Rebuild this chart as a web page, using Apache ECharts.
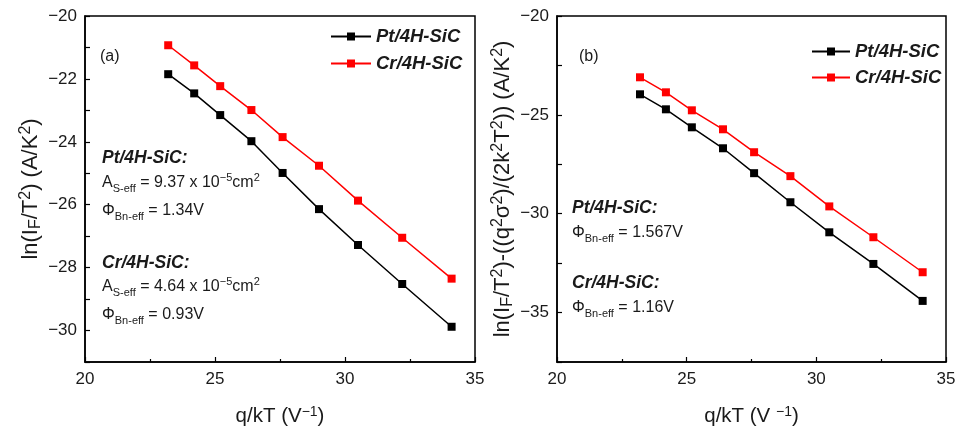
<!DOCTYPE html>
<html><head><meta charset="utf-8">
<script src="https://cdn.jsdelivr.net/npm/echarts@6/dist/echarts.min.js"></script>
<style>html,body{margin:0;padding:0;background:#fff}#c{width:960px;height:432px}</style>
</head><body><div id="c"></div>
<script>
// q/kT values (V^-1)
const qkT = [23.2, 24.2, 25.2, 26.4, 27.6, 29.0, 30.5, 32.2, 34.1];
// Panel (a): ln(IF/T^2)
const ptA = [-21.85, -22.46, -23.15, -23.98, -24.99, -26.14, -27.28, -28.52, -29.88];
const crA = [-20.93, -21.57, -22.23, -22.99, -23.85, -24.76, -25.87, -27.05, -28.35];
// Panel (b): ln(IF/T^2) - q^2σ^2/(2k^2T^2)
const ptB = [-23.96, -24.72, -25.63, -26.69, -27.95, -29.42, -30.94, -32.54, -34.41];
const crB = [-23.10, -23.86, -24.77, -25.73, -26.89, -28.10, -29.63, -31.19, -32.96];
const seriesNames = ['Pt/4H-SiC', 'Cr/4H-SiC'];
const xTicks = [20, 25, 30, 35];

const FONT = 'Liberation Sans, Arial, sans-serif';
const TXT = '#1a1a1a';
const minus = v => String(v).replace('-', '\u2212');
const rich = (fs, bfs, subRatio, lh) => {
  const r = subRatio || 0.7;
  const L = lh || 22;
  return {
    n: {fontSize: fs, lineHeight: L, fontFamily: FONT, color: TXT},
    sub: {fontSize: Math.round(fs*r), lineHeight: 6, verticalAlign: 'bottom', fontFamily: FONT, color: TXT},
    sup: {fontSize: Math.round(fs*r), lineHeight: 10, verticalAlign: 'top', fontFamily: FONT, color: TXT},
    b: {fontSize: bfs || fs, lineHeight: L, fontFamily: FONT, fontWeight: 'bold', fontStyle: 'italic', color: TXT}
  };
};

const chart = echarts.init(document.getElementById('c'), null, {renderer: 'canvas'});

function xAxisDef(gi, nameText) {
  return {
    gridIndex: gi, type: 'value', min: 20, max: 35, interval: 5,
    name: nameText, nameLocation: 'middle', nameGap: 43,
    nameTextStyle: {fontSize: 20.5, fontFamily: FONT, color: TXT, rich: rich(20.5)},
    axisLine: {show: true, onZero: false, lineStyle: {color: '#000', width: 1.5}},
    axisTick: {show: true, inside: true, length: 5, lineStyle: {color: '#000', width: 1.2}},
    minorTick: {show: true, splitNumber: 2, length: 3, lineStyle: {color: '#000', width: 1.2}},
    axisLabel: {fontSize: 17, fontFamily: FONT, color: TXT, margin: 9, formatter: v => minus(v)},
    splitLine: {show: false}, minorSplitLine: {show: false}
  };
}
function yAxisDef(gi, min, max, interval, labelEvery, nameText, gap) {
  return {
    gridIndex: gi, type: 'value', min: min, max: max, interval: interval,
    name: nameText, nameLocation: 'middle', nameGap: gap, nameRotate: 90,
    nameTextStyle: {fontSize: 22, fontFamily: FONT, color: TXT, rich: rich(22, 22, 0.72, 26)},
    axisLine: {show: true, onZero: false, lineStyle: {color: '#000', width: 1.5}},
    axisTick: {show: true, inside: true, length: 5, lineStyle: {color: '#000', width: 1.2}},
    axisLabel: {fontSize: 17, fontFamily: FONT, color: TXT, margin: 8,
      formatter: v => (Math.abs(v % labelEvery) < 1e-9 ? minus(v) : '')},
    splitLine: {show: false}
  };
}
function lineSeries(name, xi, data, color) {
  return {
    name: name, type: 'line', xAxisIndex: xi, yAxisIndex: xi,
    data: qkT.map((x, i) => [x, data[i]]),
    symbol: 'rect', symbolSize: 8, showSymbol: true,
    lineStyle: {color: color, width: 1.5}, itemStyle: {color: color},
    emphasis: {disabled: true}
  };
}
const legendStyle = {fontSize: 18.5, fontFamily: FONT, fontWeight: 'bold', fontStyle: 'italic', color: TXT};

function t(x, y, text, fs) {
  return {type: 'text', x: x, y: y, z: 100,
    style: {text: text, x: 0, y: 0, rich: rich(fs || 16, 17.5), fontSize: fs || 16, fontFamily: FONT, fill: TXT, verticalAlign: 'middle', align: 'left'}};
}

chart.setOption({
  animation: false,
  backgroundColor: '#fff',
  grid: [
    {left: 85, top: 16, width: 390, height: 346, show: true, borderColor: '#000', borderWidth: 1.5, backgroundColor: 'transparent'},
    {left: 557, top: 16, width: 389, height: 346, show: true, borderColor: '#000', borderWidth: 1.5, backgroundColor: 'transparent'}
  ],
  xAxis: [
    xAxisDef(0, '{n|q/kT (V}{sup|\u22121}{n|)}'),
    xAxisDef(1, '{n|q/kT (V }{sup|\u22121}{n|)}')
  ],
  yAxis: [
    yAxisDef(0, -31, -20, 1, 2, '{n|ln(I}{sub|F}{n|/T}{sup|2}{n|) (A/K}{sup|2}{n|)}', 41),
    yAxisDef(1, -37.5, -20, 2.5, 5, '{n|ln(I}{sub|F}{n|/T}{sup|2}{n|)-((q}{sup|2}{n|\u03c3}{sup|2}{n|)/(2k}{sup|2}{n|T}{sup|2}{n|)) (A/K}{sup|2}{n|)}', 41)
  ],
  legend: [
    {orient: 'vertical', left: 330, top: 27, padding: 0, itemWidth: 40, itemHeight: 10, itemGap: 8, data: seriesNames, textStyle: legendStyle, selectedMode: false},
    {orient: 'vertical', left: 811, top: 42, padding: 0, itemWidth: 38, itemHeight: 10, itemGap: 7, data: seriesNames, textStyle: legendStyle, selectedMode: false}
  ],
  series: [
    lineSeries(seriesNames[0], 0, ptA, '#000000'),
    lineSeries(seriesNames[1], 0, crA, '#ff0000'),
    lineSeries(seriesNames[0], 1, ptB, '#000000'),
    lineSeries(seriesNames[1], 1, crB, '#ff0000')
  ],
  graphic: [
    t(100, 57, '{n|(a)}', 16),
    t(102, 158, '{b|Pt/4H-SiC:}'),
    t(102, 183, '{n|A}{sub|S-eff}{n| = 9.37 x 10}{sup|\u22125}{n|cm}{sup|2}'),
    t(102, 211, '{n|\u03a6}{sub|Bn-eff}{n| = 1.34V}'),
    t(102, 263, '{b|Cr/4H-SiC:}'),
    t(102, 287, '{n|A}{sub|S-eff}{n| = 4.64 x 10}{sup|\u22125}{n|cm}{sup|2}'),
    t(102, 315, '{n|\u03a6}{sub|Bn-eff}{n| = 0.93V}'),
    t(579, 57, '{n|(b)}', 16),
    t(572, 208, '{b|Pt/4H-SiC:}'),
    t(572, 233, '{n|\u03a6}{sub|Bn-eff}{n| = 1.567V}'),
    t(572, 283, '{b|Cr/4H-SiC:}'),
    t(572, 308, '{n|\u03a6}{sub|Bn-eff}{n| = 1.16V}')
  ]
});
</script></body></html>
